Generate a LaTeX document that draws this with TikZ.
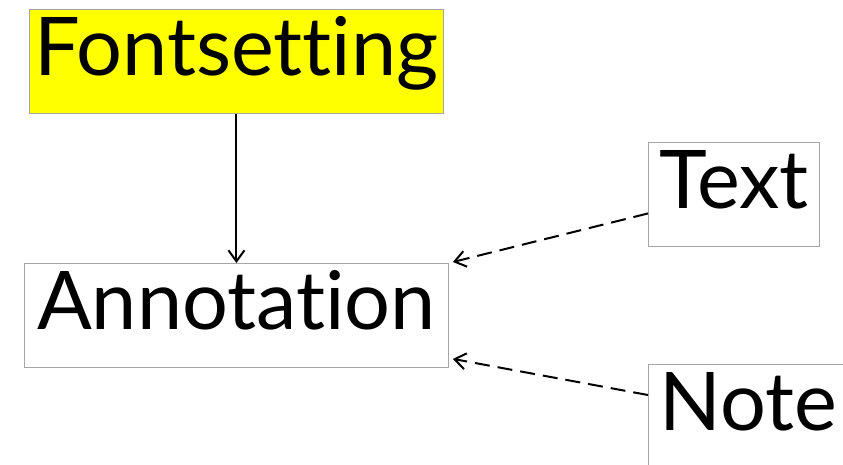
\documentclass[tikz,border=0pt]{standalone}
\usepackage{fontspec}
\setmainfont[Ligatures={NoCommon,NoDiscretionary,NoRare}]{Lato}
\usetikzlibrary{arrows.meta}
\definecolor{boxyellow}{RGB}{255,255,0}
\begin{document}
\begin{tikzpicture}[x=1pt,y=-1pt,
  box/.style={draw=black!35, line width=0.9pt, inner xsep=0pt, inner ysep=0pt,
    text height=66pt, text depth=38pt, minimum height=104pt,
    font=\fontsize{81}{90}\selectfont, anchor=north west},
  solidarrow/.style={-{Straight Barb[length=11pt,width=16pt,line width=2pt]}, line width=2pt},
  dasharrow/.style={-{Straight Barb[length=11pt,width=16pt,line width=2pt]}, line width=2pt,
    dash pattern=on 15pt off 8pt}
]
\useasboundingbox (0,0) rectangle (843,464);
\node[box, fill=boxyellow, minimum width=414pt] (F) at (29,9) {Fontsetting};
\node[box, fill=white, minimum width=424pt] (A) at (24,263) {Annotation};
\node[box, fill=white, minimum width=171pt] (T) at (648,142) {Text};
\node[box, fill=white, minimum width=200pt] (N) at (648,364) {Note};
\draw[solidarrow] (F.south) -- (A.north);
\draw[dasharrow] ([yshift=-19pt]T.west) -- ([xshift=4pt,yshift=1pt]A.north east);
\draw[dasharrow] ([yshift=-31pt]N.north west) -- ([xshift=4pt,yshift=9pt]A.south east);
\end{tikzpicture}
\end{document}
